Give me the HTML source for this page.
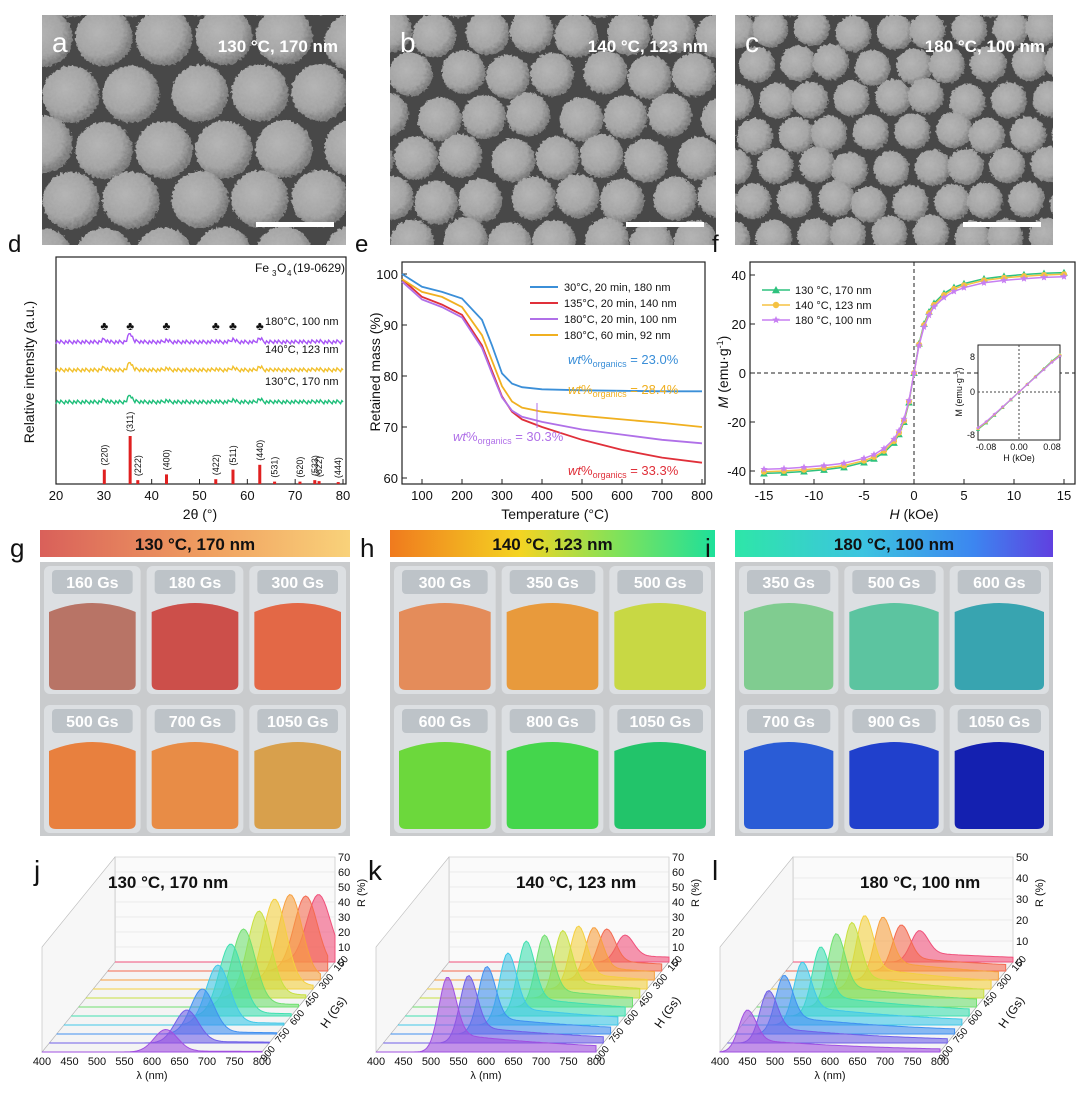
<!DOCTYPE html>
<html><head><meta charset="utf-8">
<style>
html,body{margin:0;padding:0;background:#fff;}
svg{display:block;font-family:"Liberation Sans",Arial,sans-serif;}
</style></head>
<body>
<svg id="fig" width="1080" height="1104" viewBox="0 0 1080 1104" xmlns="http://www.w3.org/2000/svg">
<defs>
<radialGradient id="part" cx="0.4" cy="0.4" r="0.6"><stop offset="0" stop-color="#b4b4b4"/><stop offset="0.7" stop-color="#a0a0a0"/><stop offset="1" stop-color="#6a6a6a"/></radialGradient>
<filter id="rough" x="0" y="0" width="1" height="1"><feTurbulence type="fractalNoise" baseFrequency="0.35" numOctaves="2" seed="3" result="n"/><feDisplacementMap in="SourceGraphic" in2="n" scale="5" xChannelSelector="R" yChannelSelector="G" result="d"/><feColorMatrix in="n" type="matrix" values="0 0 0 0 0.5  0 0 0 0 0.5  0 0 0 0 0.5  0 0 0 0.35 0" result="nn"/><feComposite in="nn" in2="d" operator="in" result="t"/><feMerge><feMergeNode in="d"/><feMergeNode in="t"/></feMerge></filter>
<linearGradient id="gg" x1="0" x2="1"><stop offset="0" stop-color="#d9605a"/><stop offset="0.55" stop-color="#f0a060"/><stop offset="1" stop-color="#f9d27a"/></linearGradient>
<linearGradient id="gh" x1="0" x2="1"><stop offset="0" stop-color="#f07a1e"/><stop offset="0.4" stop-color="#f4d422"/><stop offset="0.7" stop-color="#80e25a"/><stop offset="1" stop-color="#1ee09a"/></linearGradient>
<linearGradient id="gi" x1="0" x2="1"><stop offset="0" stop-color="#2ee6a8"/><stop offset="0.4" stop-color="#3cc4e0"/><stop offset="0.75" stop-color="#3c86f0"/><stop offset="1" stop-color="#6040e0"/></linearGradient>
<clipPath id="ca"><rect x="42" y="15" width="304" height="230"/></clipPath>
<clipPath id="cb"><rect x="390" y="15" width="326" height="230"/></clipPath>
<clipPath id="cc"><rect x="735" y="15" width="318" height="230"/></clipPath>
</defs>
<g id="sem"></g>
<g id="pd"></g><g id="pe"></g><g id="pf"></g>
<g id="vials"></g>
<g id="spec"></g>
</svg>
<script>
// ---------- DATA ----------
const xrdPos = [30.1, 35.5, 37.1, 43.1, 53.4, 57.0, 62.6, 65.7, 71.0, 74.1, 75.0, 79.0];
const xrdInt = [30, 100, 8, 20, 10, 30, 40, 5, 5, 8, 6, 4];
const xrdHkl = ["(220)","(311)","(222)","(400)","(422)","(511)","(440)","(531)","(620)","(533)","(622)","(444)"];
const xrdTicks = [20,30,40,50,60,70,80];
const traceNames = ["180°C, 100 nm","140°C, 123 nm","130°C, 170 nm"];
const traceOffset = [342, 370, 402];
const tracePeakAmp = [9, 8, 7];
const tgaT = [50, 100, 150, 200, 250, 275, 300, 325, 350, 400, 500, 600, 700, 800];
const tgaBlue = [100, 97.5, 96.5, 95.2, 91, 86, 80.5, 78.5, 77.8, 77.4, 77.2, 77.1, 77.0, 77.0];
const tgaRed = [99, 95.5, 94, 92, 86, 81, 76, 73, 71.5, 70, 67.5, 65.5, 64, 63];
const tgaPurple = [98.5, 95, 93.5, 91.5, 85.5, 80.5, 75.8, 73.2, 72, 71, 69.5, 68.5, 67.5, 66.8];
const tgaYellow = [99, 96.5, 95.5, 93.5, 88, 83, 78, 75, 73.8, 73, 72.2, 71.5, 70.8, 70];
const tgaXTicks = [100,200,300,400,500,600,700,800];
const tgaYTicks = [60,70,80,90,100];
const vsmH = [-15,-13,-11,-9,-7,-5,-4,-3,-2,-1.5,-1,-0.5,0,0.5,1,1.5,2,3,4,5,7,9,11,13,15];
const vsm130 = [-41,-40.7,-40.2,-39.5,-38.5,-36.5,-35,-32.5,-28.5,-25,-20,-12,0,12,20,25,28.5,32.5,35,36.5,38.5,39.5,40.2,40.7,41];
const vsm140 = [-40.3,-40,-39.5,-38.8,-37.8,-35.8,-34.3,-31.8,-27.8,-24.4,-19.5,-11.6,0,11.6,19.5,24.4,27.8,31.8,34.3,35.8,37.8,38.8,39.5,40,40.3];
const vsm180 = [-39.3,-39,-38.5,-37.8,-36.8,-34.8,-33.3,-30.8,-27,-23.6,-18.8,-11.2,0,11.2,18.8,23.6,27,30.8,33.3,34.8,36.8,37.8,38.5,39,39.3];
const vsmXTicks = [-15,-10,-5,0,5,10,15];
const vsmYTicks = [-40,-20,0,20,40];
const insetH = [-0.1,-0.08,-0.06,-0.04,-0.02,0,0.02,0.04,0.06,0.08,0.1];
const insetM = [-6.8,-5.6,-4.2,-2.8,-1.4,0,1.4,2.8,4.2,5.6,6.8];
const specH = [150,225,300,375,450,525,600,675,750,825,900];
const peakJ = [770,760,745,730,715,700,690,680,665,650,625];
const heightJ = [45,50,57,60,58,52,48,40,30,22,15];
const peakK = [720,700,690,675,660,640,620,600,575,555,530];
const heightK = [18,28,35,42,45,48,50,48,45,45,50];
const peakL = [630,610,590,570,560,545,530,510,490,475,450];
const heightL = [15,22,30,35,36,35,33,30,28,25,20];

// ---------- helpers ----------
const NS = "http://www.w3.org/2000/svg";
function mk(tag, attrs, parent){const e=document.createElementNS(NS,tag);for(const k in attrs)e.setAttribute(k,attrs[k]);parent.appendChild(e);return e;}
function tx(parent, x, y, s, size, opts){const t=mk('text',{x:x,y:y,'font-size':size,fill:(opts&&opts.fill)||'#111','text-anchor':(opts&&opts.anchor)||'start','font-weight':(opts&&opts.bold)?'bold':'normal'},parent);if(opts&&opts.rot)t.setAttribute('transform','rotate('+opts.rot+' '+x+' '+y+')');if(opts&&opts.italic)t.setAttribute('font-style','italic');t.textContent=s;return t;}

// ---------- SEM ----------
const sem=document.getElementById('sem');
[[42,304,'ca',30,'a','130 °C, 170 nm'],[390,326,'cb',23,'b','140 °C, 123 nm'],[735,318,'cc',19,'c','180 °C, 100 nm']].forEach((p,pi)=>{
  const g=mk('g',{'clip-path':'url(#'+p[2]+')'},sem);
  
  
  mk('rect',{x:p[0],y:15,width:p[1],height:230,fill:'#484848'},g);
  const inner=mk('g',{filter:'url(#rough)'},g);
  const r=p[3];let row=0;
  for(let y=15-r;y<260;y+=r*1.8){for(let x=p[0]-r+(row%2)*r;x<p[0]+p[1]+r;x+=r*2.05){
    const jx=((x*7+y*3)%9)-4, jy=((x*5+y*11)%7)-3;
    mk('circle',{cx:x+jx,cy:y+jy,r:r*0.95,fill:'url(#part)'},inner);}row++;}
  const l=tx(sem,p[0]+10,52,p[4],28,{fill:'#fff'});
  
  
  const c=tx(sem,p[0]+p[1]-8,52,p[5],17,{fill:'#fff',anchor:'end',bold:true});
  
  
  const sb=mk('rect',{x:p[0]+p[1]-90,y:222,width:78,height:5,fill:'#fff'},sem);
  
  
});

// ---------- panel d ----------
const pd=document.getElementById('pd');
const dx=t=>56+(t-20)/60*287;
tx(pd,8,252,'d',24);
const dfr=mk('rect',{x:56,y:257,width:290,height:227,fill:'none',stroke:'#222','stroke-width':1.2},pd);


xrdTicks.forEach(t=>{mk('line',{x1:dx(t),x2:dx(t),y1:484,y2:479,stroke:'#222'},pd);tx(pd,dx(t),500,t,13,{anchor:'middle'});});
tx(pd,200,519,'2θ (°)',14,{anchor:'middle'});
tx(pd,34,372,'Relative intensity (a.u.)',14,{anchor:'middle',rot:-90});
tx(pd,255,272,'Fe',12);tx(pd,272,276,'3',8);tx(pd,277,272,'O',12);tx(pd,287,276,'4',8);tx(pd,293,272,'(19-0629)',12);
xrdPos.forEach((p,i)=>{
  const b=mk('rect',{x:dx(p)-1.5,y:484-xrdInt[i]*0.48,width:3,height:xrdInt[i]*0.48,fill:'#e02020'},pd);
  
  
  tx(pd,dx(p)+3,484-xrdInt[i]*0.48-4,xrdHkl[i],9,{rot:-90});
});
const dcol=['#a855f7','#f2c12e','#1fbf7a'];
traceOffset.forEach((off,i)=>{
  let d='';
  for(let t=20;t<=80;t+=0.25){
    let v=0;xrdPos.forEach((p,k)=>{v+=xrdInt[k]/100*tracePeakAmp[i]*Math.exp(-Math.pow((t-p)/0.6,2));});
    const w=((Math.round(t*4)*37)%7-3)*0.6;
    d+=(d?'L':'M')+dx(t).toFixed(1)+','+(off-v+w).toFixed(1);
  }
  const pth=mk('path',{d:d,fill:'none',stroke:dcol[i],'stroke-width':1.4},pd);
  
  
  tx(pd,265,off-17,traceNames[i],11);
});
[30.1,35.5,43.1,53.4,57.0,62.6].forEach(p=>tx(pd,dx(p),330,'♣',12,{anchor:'middle'}));

// ---------- panel e ----------
const pe=document.getElementById('pe');
const ex=T=>422+(T-100)*0.4, ey=p=>274+(100-p)*5.1;
tx(pe,355,252,'e',24);
const efr=mk('rect',{x:402,y:262,width:303,height:222,fill:'none',stroke:'#222','stroke-width':1.2},pe);


tgaXTicks.forEach(t=>{mk('line',{x1:ex(t),x2:ex(t),y1:484,y2:479,stroke:'#222'},pe);tx(pe,ex(t),500,t,13,{anchor:'middle'});});
tgaYTicks.forEach(t=>{mk('line',{x1:402,x2:407,y1:ey(t),y2:ey(t),stroke:'#222'},pe);tx(pe,398,ey(t)+5,t,13,{anchor:'end'});});
tx(pe,555,519,'Temperature (°C)',14,{anchor:'middle'});
tx(pe,380,372,'Retained mass (%)',14,{anchor:'middle',rot:-90});
const eser=[[tgaBlue,'#3b8fd8','30°C,  20 min, 180 nm'],[tgaRed,'#e0303a','135°C, 20 min, 140 nm'],[tgaPurple,'#b070e8','180°C, 20 min, 100 nm'],[tgaYellow,'#f0b020','180°C, 60 min,  92 nm']];
eser.forEach((s,i)=>{
  const d=tgaT.map((t,k)=>(k?'L':'M')+ex(t).toFixed(1)+','+ey(s[0][k]).toFixed(1)).join('');
  const p=mk('path',{d:d,fill:'none',stroke:s[1],'stroke-width':1.8},pe);
  
  
  mk('line',{x1:530,x2:558,y1:287+i*16,y2:287+i*16,stroke:s[1],'stroke-width':2},pe);
  tx(pe,564,291+i*16,s[2],11);
});
function wt(x,y,v,c){const t=tx(pe,x,y,'',13,{fill:c});t.innerHTML='<tspan font-style="italic">wt</tspan>%<tspan font-size="9" dy="3">organics</tspan><tspan dy="-3"> = '+v+'</tspan>';}
wt(568,364,'23.0%','#3b8fd8');wt(568,394,'28.4%','#f0b020');wt(453,441,'30.3%','#b070e8');wt(568,475,'33.3%','#e0303a');
mk('line',{x1:537,x2:537,y1:403,y2:428,stroke:'#b070e8'},pe);

// ---------- panel f ----------
const pf=document.getElementById('pf');
const fx=H=>914+H*10, fy=M=>373-M*2.45;
tx(pf,712,252,'f',24);
const ffr=mk('rect',{x:750,y:262,width:325,height:222,fill:'none',stroke:'#222','stroke-width':1.2},pf);


mk('line',{x1:fx(0),x2:fx(0),y1:262,y2:484,stroke:'#222','stroke-dasharray':'4,3'},pf);
mk('line',{x1:750,x2:1075,y1:fy(0),y2:fy(0),stroke:'#222','stroke-dasharray':'4,3'},pf);
vsmXTicks.forEach(t=>{mk('line',{x1:fx(t),x2:fx(t),y1:484,y2:479,stroke:'#222'},pf);tx(pf,fx(t),500,t,13,{anchor:'middle'});});
vsmYTicks.forEach(t=>{mk('line',{x1:750,x2:755,y1:fy(t),y2:fy(t),stroke:'#222'},pf);tx(pf,746,fy(t)+5,t,13,{anchor:'end'});});
const fxl=tx(pf,914,519,'',14,{anchor:'middle'});fxl.innerHTML='<tspan font-style="italic">H</tspan> (kOe)';
const fyl=tx(pf,728,372,'',14,{anchor:'middle',rot:-90});fyl.innerHTML='<tspan font-style="italic">M</tspan> (emu·g<tspan font-size="9" dy="-5">-1</tspan><tspan dy="5">)</tspan>';
const fser=[[vsm130,'#2ec27e','tri','130 °C, 170 nm'],[vsm140,'#f5c242','cir','140 °C, 123 nm'],[vsm180,'#c77ff2','star','180 °C, 100 nm']];
function marker(g,x,y,type,c,s){if(type==='tri')mk('path',{d:`M${x},${y-s}L${x+s},${y+s*0.8}L${x-s},${y+s*0.8}Z`,fill:c},g);else if(type==='cir')mk('circle',{cx:x,cy:y,r:s*0.8,fill:c},g);else{let d='';for(let k=0;k<10;k++){const a=-Math.PI/2+k*Math.PI/5,rr=k%2?s*0.45:s;d+=(k?'L':'M')+(x+rr*Math.cos(a)).toFixed(1)+','+(y+rr*Math.sin(a)).toFixed(1);}mk('path',{d:d+'Z',fill:c},g);}}
fser.forEach((s,i)=>{
  const g=mk('g',{},pf);
  
  
  mk('path',{d:vsmH.map((h,k)=>(k?'L':'M')+fx(h)+','+fy(s[0][k]).toFixed(1)).join(''),fill:'none',stroke:s[1],'stroke-width':1.5},g);
  vsmH.forEach((h,k)=>marker(g,fx(h),fy(s[0][k]),s[2],s[1],3.8));
  mk('line',{x1:762,x2:790,y1:290+i*15,y2:290+i*15,stroke:s[1],'stroke-width':1.5},pf);
  marker(pf,776,290+i*15,s[2],s[1],4);
  tx(pf,795,294+i*15,s[3],11);
});
const ig=mk('g',{},pf);


const ix=h=>1019+h*410, iy=m=>392-m*5.5;
mk('rect',{x:978,y:345,width:82,height:95,fill:'#fff',stroke:'#222'},ig);
mk('line',{x1:ix(0),x2:ix(0),y1:345,y2:440,stroke:'#444','stroke-dasharray':'2,2'},ig);
mk('line',{x1:978,x2:1060,y1:iy(0),y2:iy(0),stroke:'#444','stroke-dasharray':'2,2'},ig);
fser.forEach((s,i)=>{mk('path',{d:insetH.map((h,k)=>(k?'L':'M')+ix(h).toFixed(1)+','+iy(insetM[k]*(1-i*0.02)).toFixed(1)).join(''),fill:'none',stroke:s[1],'stroke-width':1.2},ig);insetH.forEach((h,k)=>marker(ig,ix(h),iy(insetM[k]*(1-i*0.02)),s[2],s[1],2));});
tx(ig,975,360,'8',9,{anchor:'end'});tx(ig,975,395,'0',9,{anchor:'end'});tx(ig,975,438,'-8',9,{anchor:'end'});
tx(ig,986,450,'-0.08',9,{anchor:'middle'});tx(ig,1019,450,'0.00',9,{anchor:'middle'});tx(ig,1052,450,'0.08',9,{anchor:'middle'});
tx(ig,1019,461,'H (kOe)',9,{anchor:'middle'});tx(ig,962,392,'M (emu·g⁻¹)',9,{anchor:'middle',rot:-90});

// ---------- vials ----------
const vg=document.getElementById('vials');
const cols=[{x:40,w:310,grad:'gg',L:'g',T:'130 °C, 170 nm',labels:['160 Gs','180 Gs','300 Gs','500 Gs','700 Gs','1050 Gs'],colors:['#b87466','#cc4f4a','#e36846','#e8803e','#e88c46','#d8a04c']},
{x:390,w:325,grad:'gh',L:'h',T:'140 °C, 123 nm',labels:['300 Gs','350 Gs','500 Gs','600 Gs','800 Gs','1050 Gs'],colors:['#e48c5a','#e89a3c','#c8d844','#6cd83c','#44d64c','#22c46a']},
{x:735,w:318,grad:'gi',L:'i',T:'180 °C, 100 nm',labels:['350 Gs','500 Gs','600 Gs','700 Gs','900 Gs','1050 Gs'],colors:['#80cc90','#5cc4a0','#38a4b0','#2a5cd6','#2040cc','#1420b0']}];
cols.forEach(c=>{
  const hb=mk('rect',{x:c.x,y:530,width:c.w,height:27,fill:'url(#'+c.grad+')'},vg);
  
  
  tx(vg,c.x+c.w/2,550,c.T,17,{anchor:'middle',bold:true});
  mk('rect',{x:c.x,y:562,width:c.w,height:274,fill:'#c9cbcd'},vg);
  const vw=(c.w-20)/3;
  for(let k=0;k<6;k++){
    const vx=c.x+4+(k%3)*(vw+6), vy=566+Math.floor(k/3)*139;
    const vial=mk('g',{},vg);
    
    
    mk('rect',{x:vx,y:vy,width:vw,height:128,rx:6,fill:'#dcdfe2'},vial);
    mk('path',{d:`M${vx+5},${vy+46} Q${vx+vw/2},${vy+28} ${vx+vw-5},${vy+46} L${vx+vw-5},${vy+118} Q${vx+vw-5},${vy+124} ${vx+vw-12},${vy+124} L${vx+12},${vy+124} Q${vx+5},${vy+124} ${vx+5},${vy+118} Z`,fill:c.colors[k]},vial);
    mk('rect',{x:vx+8,y:vy+4,width:vw-16,height:24,rx:4,fill:'#a9b0b8',opacity:0.6},vial);
    tx(vial,vx+vw/2,vy+22,c.labels[k],16,{anchor:'middle',bold:true,fill:'#fff'});
  }
});
cols.forEach(c=>tx(vg,c.x-30,557,c.L,26));

// ---------- spectra ----------
const sp=document.getElementById('spec');
const panels=[{L:'j',x0:42,T:'130 °C, 170 nm',peak:peakJ,h:heightJ,zmax:70,ticks:[0,10,20,30,40,50,60,70],tail:0.05,w:30},
{L:'k',x0:376,T:'140 °C, 123 nm',peak:peakK,h:heightK,zmax:70,ticks:[0,10,20,30,40,50,60,70],tail:0.25,w:22},
{L:'l',x0:720,T:'180 °C, 100 nm',peak:peakL,h:heightL,zmax:50,ticks:[0,10,20,30,40,50],tail:0.3,w:22}];
const specCols=['#f0507a','#f46a50','#f7a040','#f4d040','#c8e040','#70e070','#40e0b0','#40c8e8','#4090f0','#7060e8','#a050e0'];
panels.forEach(P=>{
  const g=mk('g',{},sp);
  
  
  const fx0=P.x0, fy0=1052, W=220, Dx=73, Dy=-90, zs=105/P.zmax;
  const lx=n=>(n-400)/400*W;
  mk('path',{d:`M${fx0},${fy0}L${fx0+W},${fy0}L${fx0+W+Dx},${fy0+Dy}L${fx0+Dx},${fy0+Dy}Z`,fill:'#f4f4f4',stroke:'#999','stroke-width':0.6},g);
  mk('path',{d:`M${fx0+Dx},${fy0+Dy}L${fx0+W+Dx},${fy0+Dy}L${fx0+W+Dx},${fy0+Dy-105}L${fx0+Dx},${fy0+Dy-105}Z`,fill:'#fafafa',stroke:'#bbb','stroke-width':0.6},g);
  mk('path',{d:`M${fx0},${fy0}L${fx0+Dx},${fy0+Dy}L${fx0+Dx},${fy0+Dy-105}L${fx0},${fy0-105}Z`,fill:'#f7f7f7',stroke:'#bbb','stroke-width':0.6},g);
  P.ticks.forEach(t=>{mk('line',{x1:fx0+Dx,x2:fx0+W+Dx,y1:fy0+Dy-t*zs,y2:fy0+Dy-t*zs,stroke:'#ddd','stroke-width':0.5},g);tx(g,fx0+W+Dx+3,fy0+Dy-t*zs+4,t,11);});
  tx(g,fx0+W+Dx+30,fy0+Dy-55,'R (%)',11,{rot:-90});
  specH.forEach((h,i)=>{const f=(specH.length-1-i)/(specH.length-1);if(i%2===0)tx(g,fx0+W+3+Dx*f,fy0+Dy*f+10,h,10,{rot:-50});});
  tx(g,fx0+W+Dx*0.5+28,fy0+Dy*0.5+22,'H (Gs)',12,{rot:-55});
  [400,450,500,550,600,650,700,750,800].forEach(n=>tx(g,fx0+lx(n),fy0+13,n,11,{anchor:'middle'}));
  tx(g,fx0+W/2,fy0+27,'λ (nm)',11,{anchor:'middle'});
  specH.forEach((h,i)=>{
    const f=(specH.length-1-i)/(specH.length-1);
    const ox=fx0+Dx*f, oy=fy0+Dy*f;
    let d=`M${ox},${oy}`;
    for(let n=400;n<=800;n+=4){
      const g1=Math.exp(-Math.pow((n-P.peak[i])/P.w,2));
      const tail=n>P.peak[i]?P.tail*Math.exp(-(n-P.peak[i])/250):0;
      const v=P.h[i]*(g1+tail*(1-g1));
      d+=`L${(ox+lx(n)).toFixed(1)},${(oy-v*zs).toFixed(1)}`;
    }
    d+=`L${ox+W},${oy}Z`;
    const c=specCols[i];
    const pth=mk('path',{d:d,fill:c,'fill-opacity':0.6,stroke:c,'stroke-width':1},g);
    
    
  });
  tx(sp,P.x0-8,880,P.L,28);
  tx(sp,P.L==='j'?108:P.x0+140,888,P.T,17,{bold:true});
});
</script>
</body></html>
